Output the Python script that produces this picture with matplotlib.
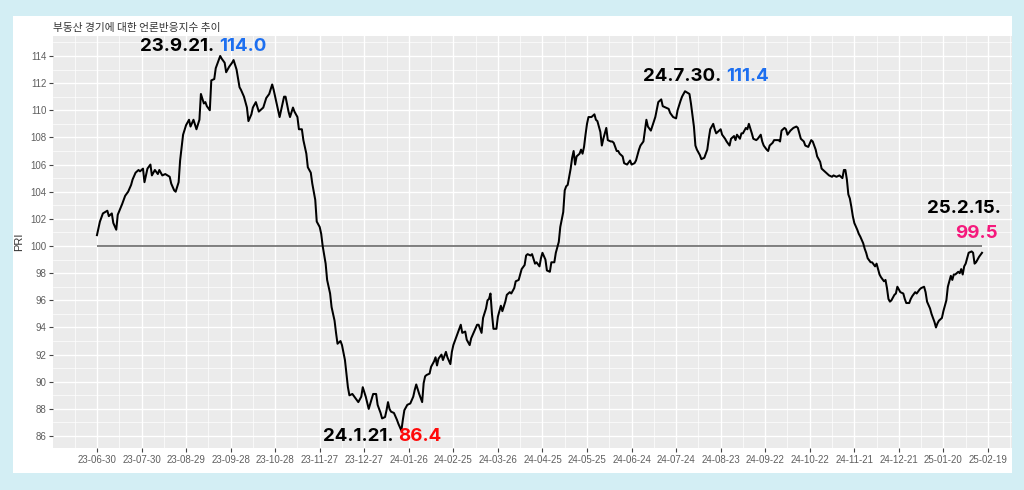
import pandas as pd
import matplotlib.pyplot as plt
from matplotlib.patches import Rectangle
from matplotlib.ticker import FixedLocator, MultipleLocator
import matplotlib.dates as mdates

plt.rcParams['font.family'] = ['Liberation Sans', 'DejaVu Sans']

start = pd.Timestamp('2023-06-30')

# day offsets from 2023-06-30 and the index value
days_a = [0, 2, 4, 7, 8, 10, 11, 13, 14, 17, 19, 21, 23, 24, 26, 28, 29, 31, 32, 34,
          36, 37, 39, 41, 42, 44, 46, 49, 50, 52, 53, 55, 56, 58, 60, 62, 63, 65, 67, 69,
          70, 72, 73, 74, 76, 77, 79, 80, 83, 84, 86, 87, 89, 91]
pri_a = [100.8, 101.8, 102.4, 102.6, 102.2, 102.4, 101.7, 101.2, 102.3, 103.1,
         103.7, 104.0, 104.5, 104.9, 105.4, 105.6, 105.5, 105.7, 104.7, 105.7,
         106.0, 105.2, 105.6, 105.3, 105.6, 105.2, 105.3, 105.1, 104.6, 104.1,
         104.0, 104.7, 106.3, 108.2, 108.9, 109.3, 108.8, 109.3, 108.6, 109.3,
         111.2, 110.5, 110.6, 110.3, 110.0, 112.2, 112.3, 113.1, 114.0, 113.8,
         113.5, 112.8, 113.2, 113.5]

days_b = [92, 94, 96, 97, 99, 101, 102, 104, 105, 107, 109, 110, 112, 114, 116, 118, 119,
          121, 123, 124, 126, 127, 129, 130, 132, 133, 135, 136, 138, 139, 141, 142, 144,
          145, 147, 148, 150, 151, 152, 154, 155, 157, 158, 160, 161, 162, 164, 165, 167,
          168, 169, 170, 172, 174, 176, 178, 179, 181, 183]
pri_b = [113.7, 113.0, 111.7, 111.5, 111.0, 110.2, 109.2, 109.7, 110.2, 110.6,
         109.9, 110.0, 110.2, 110.9, 111.2, 111.9, 111.5, 110.5, 109.5, 110.0,
         111.0, 111.0, 109.9, 109.5, 110.2, 109.9, 109.5, 108.6, 108.6, 107.8,
         106.8, 105.8, 105.4, 104.6, 103.4, 101.8, 101.4, 100.9, 100.0, 98.7,
         97.5, 96.5, 95.5, 94.5, 93.6, 92.8, 93.0, 92.7, 91.6, 90.6,
         89.6, 89.0, 89.1, 88.8, 88.5, 88.9, 89.6, 88.9, 88.0]

days_c = [186, 188, 189, 191, 192, 194, 195, 196, 197, 198, 200, 202, 203, 205, 206, 207,
          209, 211, 213, 214, 215, 217, 219, 220, 221, 222, 224, 225, 227, 228, 229, 230,
          232, 233, 235, 236, 238, 239, 240, 242, 243, 245, 246, 248, 249, 251, 252, 254,
          256, 257, 259, 260, 262, 263, 264, 265, 266, 267, 269, 270, 272, 273, 275, 276,
          278, 279, 281, 282]
pri_c = [89.1, 89.1, 88.3, 87.7, 87.3, 87.4, 87.9, 88.5, 88.0, 87.8,
         87.7, 87.2, 86.9, 86.4, 87.2, 87.9, 88.3, 88.4, 88.9, 89.4,
         89.8, 89.1, 88.5, 89.9, 90.4, 90.5, 90.6, 91.1, 91.5, 91.8,
         91.2, 91.7, 92.0, 91.6, 92.2, 91.8, 91.3, 92.2, 92.7, 93.3,
         93.6, 94.2, 93.6, 93.7, 93.1, 92.7, 93.2, 93.7, 94.2, 94.2,
         93.6, 94.7, 95.4, 96.0, 96.1, 96.5, 95.0, 93.9, 93.9, 94.8,
         95.6, 95.2, 95.9, 96.4, 96.6, 96.5, 96.9, 97.4]

days_d = [284, 286, 288, 289, 290, 292, 293, 295, 296, 298, 299, 300, 302, 303, 305, 306,
          308, 309, 311, 312, 314, 315, 316, 317, 318, 319, 320, 321, 322, 323, 325, 326,
          327, 328, 329, 330, 331, 333, 335, 336, 337, 339, 340, 341, 343, 344, 346, 347,
          348, 350, 351, 352, 354, 355, 357, 359, 360, 362, 363, 365, 366, 368, 369, 370,
          371, 373]
pri_d = [97.5, 98.3, 98.6, 99.3, 99.4, 99.3, 99.4, 98.7, 98.8, 98.5,
         99.1, 99.5, 99.0, 98.2, 98.1, 98.8, 98.8, 99.5, 100.3, 101.4,
         102.5, 104.1, 104.4, 104.5, 105.1, 105.7, 106.5, 107.0, 106.0, 106.6,
         106.8, 107.1, 106.8, 107.3, 108.2, 109.0, 109.5, 109.5, 109.7, 109.3,
         109.2, 108.4, 107.4, 107.9, 108.7, 107.8, 107.7, 107.7, 107.6, 107.0,
         107.0, 106.8, 106.6, 106.1, 106.0, 106.3, 106.0, 106.1, 106.3, 107.1,
         107.4, 107.7, 108.5, 109.3, 108.8, 108.5]

days_e = [376, 378, 380, 381, 383, 385, 386, 388, 390, 391, 393, 394, 396, 399, 400, 402,
          403, 404, 406, 407, 409, 411, 412, 413, 415, 416, 417, 419, 420, 421, 423, 424,
          426, 427, 429, 430, 431, 433, 434, 435, 437, 438, 439, 441, 442, 444, 445, 447,
          448, 449, 451, 452, 453, 455, 456, 457, 459, 460, 461, 463, 464, 465]
pri_e = [109.5, 110.6, 110.8, 110.3, 110.2, 110.1, 109.8, 109.5, 109.4, 110.0,
         110.7, 111.0, 111.4, 111.2, 110.5, 108.8, 107.4, 107.1, 106.7, 106.4,
         106.5, 107.1, 107.9, 108.6, 109.0, 108.6, 108.3, 108.5, 108.6, 108.2,
         107.9, 107.7, 107.4, 107.9, 108.1, 107.8, 108.2, 107.9, 108.3, 108.3,
         108.7, 108.6, 109.0, 108.3, 107.9, 107.8, 107.9, 108.2, 107.7, 107.4,
         107.1, 107.0, 107.4, 107.6, 107.8, 107.8, 107.8, 107.7, 108.5, 108.7,
         108.6, 108.2]

days_f = [467, 469, 471, 472, 474, 476, 477, 479, 481, 482, 484, 485, 487, 488, 490, 491,
          493, 495, 496, 498, 500, 502, 503, 504, 505, 506, 507, 508, 509, 510, 512, 513,
          514, 516, 517, 518, 519, 521, 522, 524, 525, 526, 527, 528, 530, 531, 532, 533,
          534, 535, 537, 538, 539, 540, 541, 543, 544, 545, 547, 548, 549, 551, 552, 554,
          555, 557, 558, 559, 561, 562, 563, 564, 565, 566, 567, 569, 570, 572, 573, 574,
          575, 576, 577, 578, 580, 581, 582, 583, 584, 585, 586, 587, 589, 590, 591, 592,
          594, 596]
pri_f = [108.5, 108.7, 108.8, 108.7, 107.9, 107.7, 107.4, 107.3, 107.8, 107.7,
         107.1, 106.6, 106.2, 105.7, 105.5, 105.4, 105.2, 105.1, 105.2, 105.1,
         105.2, 105.0, 105.6, 105.6, 104.9, 103.8, 103.5, 102.9, 102.2, 101.7,
         101.2, 100.9, 100.7, 100.2, 99.8, 99.5, 99.1, 98.8, 98.8, 98.5,
         98.7, 98.3, 97.9, 97.7, 97.4, 97.5, 96.9, 96.1, 95.9, 96.0,
         96.4, 96.5, 97.0, 96.8, 96.6, 96.5, 96.1, 95.8, 95.8, 96.1,
         96.3, 96.6, 96.5, 96.8, 96.9, 97.0, 96.6, 95.9, 95.4, 95.0,
         94.7, 94.4, 94.0, 94.3, 94.5, 94.7, 95.2, 96.0, 97.0, 97.4,
         97.8, 97.5, 97.9, 97.9, 98.1, 98.0, 98.3, 97.9, 98.5, 98.7,
         99.1, 99.5, 99.6, 99.5, 98.7, 98.8, 99.2, 99.5]

days = days_a + days_b + days_c + days_d + days_e + days_f
pri = pri_a + pri_b + pri_c + pri_d + pri_e + pri_f
assert len(days) == len(pri)

tick_labels = ['23-06-30', '23-07-30', '23-08-29', '23-09-28', '23-10-28', '23-11-27',
               '23-12-27', '24-01-26', '24-02-25', '24-03-26', '24-04-25', '24-05-25',
               '24-06-24', '24-07-24', '24-08-23', '24-09-22', '24-10-22', '24-11-21',
               '24-12-21', '25-01-20', '25-02-19']

# callouts: date text, value text, value colour
callout_dates = ['23.9.21.', '24.1.21.', '24.7.30.', '25.2.15.']
callout_values = ['114.0', '86.4', '111.4', '99.5']
callout_colors = ['#1d6ff0', '#ff0a0a', '#1d6ff0', '#f5197c']

dates = start + pd.to_timedelta(days, unit='D')
tick_dates = pd.to_datetime(['20' + t for t in tick_labels])
minor_dates = list(tick_dates - pd.Timedelta(days=15)) + [tick_dates[-1] + pd.Timedelta(days=15)]

fig = plt.figure(figsize=(10.24, 4.9), dpi=100)
fig.patch.set_facecolor('#d3eef4')
fig.patches.append(Rectangle((13 / 1024, 1 - 473 / 490), 999 / 1024, 457 / 490,
                             transform=fig.transFigure, facecolor='white',
                             edgecolor='none', zorder=-10))

ax = fig.add_axes([53 / 1024, 1 - 448 / 490, 959 / 1024, 412 / 490])
ax.set_facecolor('#ebebeb')
for s in ax.spines.values():
    s.set_visible(False)

ax.plot(dates, pri, color='black', lw=1.45, zorder=3)
ax.hlines(100, dates[0], dates[-1], color='#5e5e5e', lw=1.1, zorder=2)

ax.set_xlim(start - pd.Timedelta(days=29.6), start + pd.Timedelta(days=616.2))
ax.set_ylim(85.12, 115.47)

ax.xaxis.set_major_locator(FixedLocator(mdates.date2num(tick_dates)))
ax.xaxis.set_minor_locator(FixedLocator(mdates.date2num(minor_dates)))
ax.set_xticklabels(tick_labels)
ax.yaxis.set_major_locator(MultipleLocator(2))
ax.yaxis.set_minor_locator(MultipleLocator(1))
ax.yaxis.set_major_formatter(lambda v, p: f'{v:.0f}')

ax.grid(which='major', color='white', lw=1.0)
ax.grid(which='minor', color='white', lw=0.5)
ax.set_axisbelow(True)
ax.tick_params(which='major', length=2.75, width=0.8, color='#444444',
               labelsize=7, labelcolor='#5f5f5f', pad=2)
ax.tick_params(which='minor', length=0)

ax.set_ylabel('PRI', fontsize=8, color='#333333', labelpad=4)
fig.text(53 / 1024, 1 - 27.5 / 490, '부동산 경기에 대한 언론반응지수 추이',
         fontsize=7.7, color='#333333', va='center', ha='left',
         family=['Noto Sans CJK KR', 'DejaVu Sans'])

# callout anchors (date, value) next to the highlighted points
anchors = [('2023-09-18', 114.7), ('2024-01-17', 86.0), ('2024-08-25', 112.5)]
font = dict(family=['Inter', 'DejaVu Sans'], fontsize=13.5, fontweight='bold', va='center')
for (d, v), lab, val, col in zip(anchors, callout_dates, callout_values, callout_colors):
    x = mdates.date2num(pd.Timestamp(d))
    ax.annotate(lab, (x, v), xytext=(-2, 0), textcoords='offset pixels',
                ha='right', color='black', **font)
    ax.annotate(val, (x, v), xytext=(3, 0), textcoords='offset pixels',
                ha='left', color=col, **font)

xr = mdates.date2num(pd.Timestamp('2025-02-28'))
ax.annotate(callout_dates[3], (xr, 102.73), ha='right', color='black',
            annotation_clip=False, **font)
ax.annotate(callout_values[3], (xr, 100.9), xytext=(-4, 0), textcoords='offset pixels',
            ha='right', color=callout_colors[3], annotation_clip=False, **font)

fig.savefig('out.png', dpi=100, facecolor=fig.get_facecolor())
